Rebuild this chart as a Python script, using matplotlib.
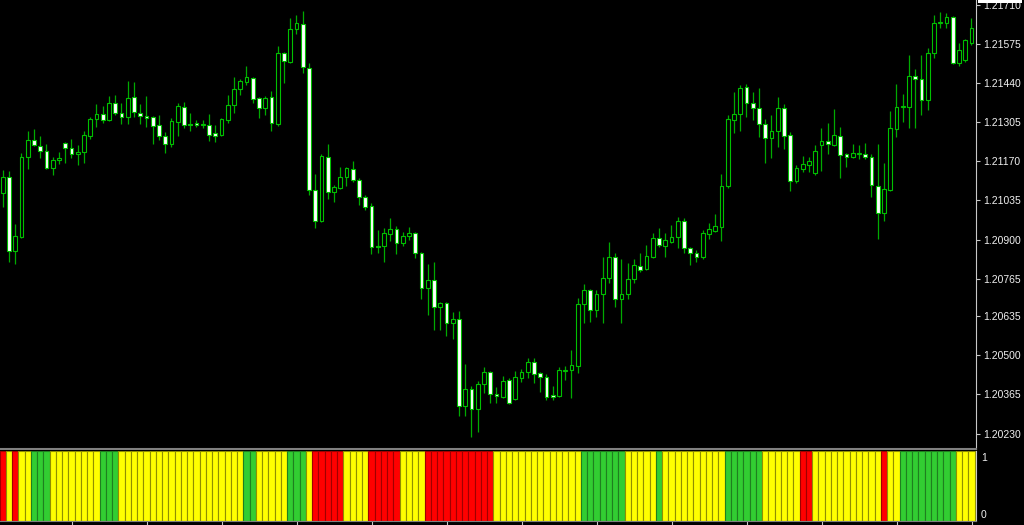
import matplotlib
matplotlib.use("Agg")
import matplotlib.pyplot as plt
from matplotlib.patches import Rectangle
import numpy as np

# ---- data (EURUSD-like candles) ----
open_ = [1.21061, 1.21116, 1.20860, 1.20909, 1.21185, 1.21243, 1.21222, 1.21206, 1.21146, 1.21174,
         1.21233, 1.21215, 1.21195, 1.21202, 1.21257, 1.21316, 1.21333, 1.21312, 1.21372, 1.21337,
         1.21323, 1.21392, 1.21337, 1.21326, 1.21323, 1.21295, 1.21257, 1.21229, 1.21305, 1.21358,
         1.21298, 1.21302, 1.21295, 1.21295, 1.21268, 1.21261, 1.21312, 1.21365, 1.21420, 1.21444,
         1.21457, 1.21388, 1.21354, 1.21392, 1.21298, 1.21544, 1.21513, 1.21627, 1.21644, 1.21492,
         1.21071, 1.20964, 1.21185, 1.21064, 1.21077, 1.21116, 1.21143, 1.21105, 1.21047, 1.21015,
         1.20877, 1.20877, 1.20919, 1.20936, 1.20888, 1.20912, 1.20923, 1.20853, 1.20732, 1.20760,
         1.20667, 1.20681, 1.20612, 1.20625, 1.20324, 1.20383, 1.20314, 1.20400, 1.20442, 1.20366,
         1.20356, 1.20414, 1.20349, 1.20421, 1.20442, 1.20477, 1.20439, 1.20425, 1.20363, 1.20359,
         1.20446, 1.20449, 1.20463, 1.20677, 1.20725, 1.20656, 1.20711, 1.20767, 1.20839, 1.20694,
         1.20711, 1.20763, 1.20808, 1.20798, 1.20839, 1.20905, 1.20877, 1.20891, 1.20909, 1.20964,
         1.20870, 1.20853, 1.20839, 1.20919, 1.20930, 1.20943, 1.21084, 1.21312, 1.21333, 1.21427,
         1.21372, 1.21354, 1.21298, 1.21250, 1.21275, 1.21354, 1.21261, 1.21102, 1.21143, 1.21157,
         1.21130, 1.21226, 1.21240, 1.21226, 1.21257, 1.21195, 1.21185, 1.21195, 1.21195, 1.21185,
         1.21084, 1.20992, 1.21071, 1.21281, 1.21358, 1.21358, 1.21464, 1.21454, 1.21382, 1.21544,
         1.21648, 1.21648, 1.21668, 1.21510, 1.21520, 1.21579]
high = [1.21140, 1.21137, 1.20953, 1.21199, 1.21275, 1.21281, 1.21257, 1.21229, 1.21185, 1.21202,
        1.21236, 1.21247, 1.21226, 1.21275, 1.21323, 1.21368, 1.21361, 1.21395, 1.21399, 1.21372,
        1.21448, 1.21444, 1.21368, 1.21395, 1.21326, 1.21330, 1.21271, 1.21319, 1.21372, 1.21375,
        1.21337, 1.21312, 1.21312, 1.21333, 1.21295, 1.21319, 1.21399, 1.21461, 1.21454, 1.21499,
        1.21461, 1.21392, 1.21395, 1.21413, 1.21568, 1.21547, 1.21664, 1.21675, 1.21689, 1.21510,
        1.21126, 1.21195, 1.21229, 1.21088, 1.21150, 1.21150, 1.21171, 1.21112, 1.21054, 1.21026,
        1.20933, 1.20939, 1.20974, 1.20946, 1.20926, 1.20943, 1.20926, 1.20856, 1.20815, 1.20822,
        1.20684, 1.20684, 1.20649, 1.20653, 1.20470, 1.20393, 1.20411, 1.20460, 1.20446, 1.20390,
        1.20428, 1.20421, 1.20446, 1.20453, 1.20490, 1.20490, 1.20442, 1.20435, 1.20393, 1.20460,
        1.20463, 1.20518, 1.20697, 1.20746, 1.20729, 1.20725, 1.20839, 1.20891, 1.20853, 1.20832,
        1.20819, 1.20832, 1.20853, 1.20881, 1.20923, 1.20939, 1.20923, 1.20950, 1.20978, 1.20974,
        1.20874, 1.20863, 1.20933, 1.20957, 1.20988, 1.21126, 1.21330, 1.21409, 1.21434, 1.21437,
        1.21409, 1.21423, 1.21316, 1.21330, 1.21392, 1.21368, 1.21271, 1.21157, 1.21188, 1.21185,
        1.21226, 1.21284, 1.21302, 1.21351, 1.21288, 1.21199, 1.21229, 1.21226, 1.21233, 1.21195,
        1.21229, 1.21164, 1.21344, 1.21437, 1.21402, 1.21537, 1.21489, 1.21537, 1.21561, 1.21675,
        1.21685, 1.21682, 1.21672, 1.21579, 1.21592, 1.21664]
low = [1.21012, 1.20822, 1.20815, 1.20905, 1.21143, 1.21222, 1.21181, 1.21143, 1.21123, 1.21160,
       1.21164, 1.21181, 1.21157, 1.21164, 1.21247, 1.21288, 1.21302, 1.21309, 1.21330, 1.21298,
       1.21298, 1.21323, 1.21298, 1.21288, 1.21229, 1.21243, 1.21199, 1.21219, 1.21257, 1.21284,
       1.21275, 1.21288, 1.21284, 1.21240, 1.21236, 1.21257, 1.21302, 1.21337, 1.21399, 1.21434,
       1.21372, 1.21319, 1.21330, 1.21275, 1.21291, 1.21441, 1.21510, 1.21609, 1.21475, 1.21054,
       1.20939, 1.20960, 1.21040, 1.21029, 1.21074, 1.21084, 1.21098, 1.21019, 1.21002, 1.20849,
       1.20853, 1.20822, 1.20895, 1.20849, 1.20877, 1.20898, 1.20835, 1.20694, 1.20639, 1.20587,
       1.20587, 1.20566, 1.20556, 1.20290, 1.20290, 1.20218, 1.20235, 1.20370, 1.20335, 1.20335,
       1.20352, 1.20331, 1.20345, 1.20407, 1.20421, 1.20404, 1.20373, 1.20345, 1.20345, 1.20356,
       1.20414, 1.20352, 1.20439, 1.20612, 1.20615, 1.20632, 1.20612, 1.20750, 1.20667, 1.20612,
       1.20694, 1.20750, 1.20787, 1.20794, 1.20835, 1.20874, 1.20839, 1.20888, 1.20870, 1.20853,
       1.20812, 1.20822, 1.20832, 1.20902, 1.20926, 1.20895, 1.21077, 1.21268, 1.21275, 1.21323,
       1.21312, 1.21254, 1.21164, 1.21181, 1.21219, 1.21212, 1.21068, 1.21095, 1.21133, 1.21133,
       1.21123, 1.21137, 1.21195, 1.21222, 1.21112, 1.21150, 1.21181, 1.21178, 1.21178, 1.21047,
       1.20902, 1.20964, 1.21068, 1.21254, 1.21305, 1.21284, 1.21284, 1.21330, 1.21347, 1.21526,
       1.21630, 1.21630, 1.21506, 1.21499, 1.21513, 1.21572]
close = [1.21116, 1.20860, 1.20912, 1.21185, 1.21243, 1.21226, 1.21206, 1.21146, 1.21174, 1.21181,
         1.21215, 1.21195, 1.21202, 1.21261, 1.21316, 1.21333, 1.21312, 1.21372, 1.21337, 1.21323,
         1.21388, 1.21340, 1.21326, 1.21319, 1.21291, 1.21257, 1.21229, 1.21309, 1.21361, 1.21295,
         1.21295, 1.21295, 1.21298, 1.21261, 1.21257, 1.21316, 1.21365, 1.21420, 1.21448, 1.21461,
         1.21385, 1.21354, 1.21388, 1.21302, 1.21544, 1.21517, 1.21627, 1.21648, 1.21496, 1.21071,
         1.20964, 1.21188, 1.21064, 1.21081, 1.21116, 1.21146, 1.21105, 1.21047, 1.21012, 1.20874,
         1.20874, 1.20923, 1.20936, 1.20888, 1.20912, 1.20923, 1.20853, 1.20732, 1.20760, 1.20667,
         1.20681, 1.20612, 1.20625, 1.20324, 1.20383, 1.20314, 1.20400, 1.20442, 1.20366, 1.20359,
         1.20411, 1.20335, 1.20425, 1.20442, 1.20477, 1.20435, 1.20425, 1.20356, 1.20356, 1.20449,
         1.20449, 1.20467, 1.20677, 1.20725, 1.20656, 1.20711, 1.20767, 1.20839, 1.20694, 1.20711,
         1.20763, 1.20812, 1.20794, 1.20842, 1.20905, 1.20881, 1.20898, 1.20909, 1.20964, 1.20870,
         1.20853, 1.20839, 1.20923, 1.20936, 1.20946, 1.21084, 1.21316, 1.21333, 1.21423, 1.21372,
         1.21354, 1.21298, 1.21250, 1.21275, 1.21354, 1.21257, 1.21102, 1.21146, 1.21160, 1.21171,
         1.21206, 1.21240, 1.21229, 1.21261, 1.21192, 1.21185, 1.21199, 1.21199, 1.21185, 1.21088,
         1.20992, 1.21074, 1.21284, 1.21358, 1.21361, 1.21464, 1.21454, 1.21382, 1.21544, 1.21648,
         1.21651, 1.21668, 1.21510, 1.21554, 1.21589, 1.21630]

# indicator state per bar: R = red, Y = yellow, G = green
trend = list("RYRYYGGGYY" "YYYYYYGGGY" "YYYYYYYYYY" "YYYYYYYYYG"
             "GYYYYYGGGY" "RRRRRYYYYR" "RRRRYYYYRR" "RRRRRRRRRY"
             "YYYYYYYYYY" "YYYGGGGGGG" "YYYYYGYYYY" "YYYYYYGGGG"
             "GGYYYYYYRR" "YYYYYYYYYY" "YRYYGGGGGG" "GGGYYY")

price_ticks = [1.21710, 1.21575, 1.21440, 1.21305, 1.21170, 1.21035,
               1.20900, 1.20765, 1.20635, 1.20500, 1.20365, 1.20230]

# ---- figure ----
W, H = 1024, 525
fig = plt.figure(figsize=(W / 100, H / 100), dpi=100, facecolor="black")
ax = fig.add_axes([0, 1 - 449 / H, 976 / W, 449 / H], facecolor="black")
ax2 = fig.add_axes([0, 1 - 521 / H, 976 / W, 70 / H], facecolor="black")

n = len(open_)
x = np.arange(n)
o = np.array(open_); c = np.array(close)
hi = np.array(high); lo = np.array(low)

WICK = "#00aa00"
EDGE = "#00c000"
ax.vlines(x, lo, hi, color=WICK, linewidth=0.9, zorder=1)
bull = c >= o
bottom = np.minimum(o, c)
height = np.maximum(np.abs(c - o), 0.000005)
fills = np.where(bull, "black", "white")
ax.bar(x, height, bottom=bottom, width=0.62, color=fills, edgecolor=EDGE,
       linewidth=0.8, zorder=2)

xlim = (-0.43, 155.73)
ax.set_xlim(*xlim)
ax.set_ylim(1.201765, 1.217273)
ax.set_xticks([])
ax.yaxis.tick_right()
ax.set_yticks(price_ticks)
ax.set_yticklabels([f"{v:.5f}" for v in price_ticks])
ax.tick_params(axis="y", colors="#c8c8c8", length=3, width=0.8, pad=2,
               labelsize=7.5, labelcolor="#f0f0f0")
for lab in ax.get_yticklabels():
    lab.set_family("Liberation Sans")
for s in ["top", "left"]:
    ax.spines[s].set_visible(False)
ax.spines["right"].set_color("#c8c8c8")
ax.spines["bottom"].set_color("#808080")
ax.spines["bottom"].set_linewidth(1.5)

# ---- indicator panel ----
cmap = {"R": "#ff0000", "Y": "#ffff00", "G": "#32cd32"}
emap = {"R": "#a00000", "Y": "#8f8f00", "G": "#1f7f1f"}
ax2.bar(x, 1.0, width=1.0, color=[cmap[t] for t in trend],
        edgecolor=[emap[t] for t in trend], linewidth=0.8)
ax2.set_xlim(*xlim)
ax2.set_ylim(0, 1)
ax2.set_yticks([])
ax2.set_xticks(np.arange(11.1, 156, 12))
ax2.set_xticklabels([])
ax2.tick_params(axis="x", colors="#c8c8c8", length=3, width=0.8, direction="out")
for s in ["top", "left"]:
    ax2.spines[s].set_visible(False)
ax2.spines["right"].set_color("#c8c8c8")
ax2.spines["bottom"].set_color("#808080")
fig.text(981 / W, 1 - 458 / H, "1", color="#f0f0f0", fontsize=7.5,
         family="Liberation Sans", va="center", ha="left")
fig.text(981 / W, 1 - 515 / H, "0", color="#f0f0f0", fontsize=7.5,
         family="Liberation Sans", va="center", ha="left")

# cut-off current-price box at the top of the price scale
fig.patches.append(Rectangle((978 / W, 1 - 2.5 / H), 44 / W, 2.5 / H,
                             transform=fig.transFigure, facecolor="white",
                             edgecolor="none"))

fig.savefig("out.png", dpi=100, facecolor="black")
